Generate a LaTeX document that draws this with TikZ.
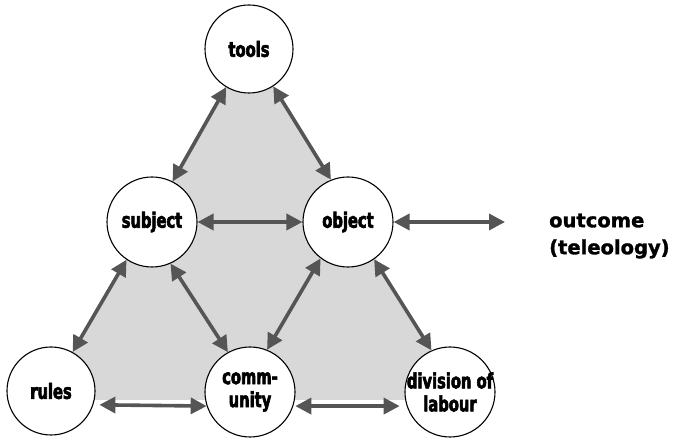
\documentclass[tikz,border=0pt]{standalone}
\usepackage{fontspec}
\usetikzlibrary{arrows.meta}
\newfontfamily\lblfont{DejaVu Sans}[FakeStretch=0.70, FakeBold=2.8]
\newfontfamily\outfont{DejaVu Sans}[FakeBold=1.5]
\definecolor{arrgray}{HTML}{555555}
\definecolor{fillgray}{HTML}{D8D8D8}
\tikzset{
  circ/.style={circle, draw=black, line width=1.1pt, fill=white, minimum size=#1, inner sep=0pt},
  circ/.default=90pt,
  lbl/.style={font=\lblfont\bfseries\fontsize{21}{23}\selectfont, align=center},
  arr/.style={draw=arrgray, line width=3.6pt, {Triangle[length=16pt,width=16pt]}-{Triangle[length=16pt,width=16pt]}},
}
\begin{document}
\begin{tikzpicture}[x=1pt,y=-1pt]
\useasboundingbox (0,0) rectangle (673,438);
\fill[fillgray] (249,45) -- (45,400) -- (460,400) -- cycle;
\node[circ=88pt, label={[lbl]center:tools}] (tools) at (249,49) {};
\node[circ, label={[lbl]center:subject}] (subject) at (152,222) {};
\node[circ, label={[lbl]center:object}] (object) at (348,222) {};
\node[circ=88pt, label={[lbl]center:rules}] (rules) at (51,391) {};
\node[circ, label={[lbl]center:comm-\\unity}] (community) at (250,392) {};
\node[circ, label={[lbl]center:division of\\labour}] (division) at (450,392) {};
\node[font=\outfont\bfseries\fontsize{19.5}{27}\selectfont, align=left, anchor=west, inner sep=0pt] (outcome) at (549,236) {outcome\\(teleology)};
\coordinate (outend) at (505,222);
\draw[arr] (tools.239) -- (subject.63);
\draw[arr] (tools.303) -- (object.112);
\draw[arr] (subject.east) -- (object.west);
\draw[arr] (subject.236) -- (rules.61);
\draw[arr] (subject.294) -- (community.119);
\draw[arr] (object.233) -- (community.68);
\draw[arr] (object.305) -- (division.114);
\draw[arr, shorten <=6pt] (rules.-18) -- (community.198);
\draw[arr, shorten <=2pt, shorten >=7pt] (community.-18) -- (division.198);
\draw[arr] (object.east) -- (outend);
\end{tikzpicture}
\end{document}
